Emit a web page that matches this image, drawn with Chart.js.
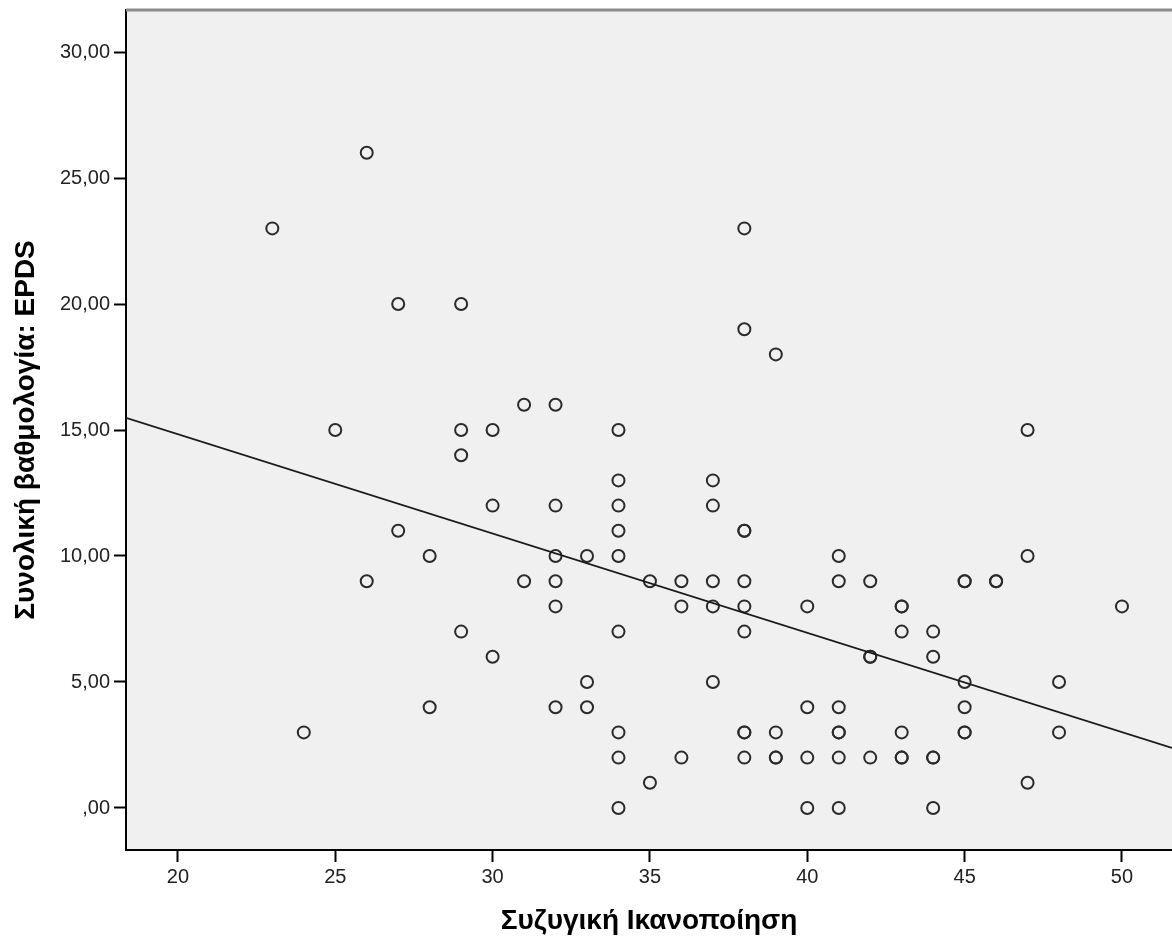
<!DOCTYPE html>
<html>
<head>
<meta charset="utf-8">
<script src="https://cdn.jsdelivr.net/npm/chart.js@4/dist/chart.umd.min.js"></script>
<style>
  html, body { margin: 0; padding: 0; background: #fff; overflow: hidden; }
  #wrap { width: 1172px; height: 944px; }
  canvas { display: block; }
</style>
</head>
<body>
<div id="wrap"><canvas id="scatter" width="1172" height="944"></canvas></div>
<script>
// ---- data ----
const maritalSatisfaction = [
  23, 24, 25, 26, 26, 27, 27, 28, 28,
  29, 29, 29, 29, 30, 30, 30, 31, 31,
  32, 32, 32, 32, 32, 32, 33, 33, 33,
  34, 34, 34, 34, 34, 34, 34, 34, 34,
  35, 35, 36, 36, 36, 37, 37, 37, 37, 37,
  38, 38, 38, 38, 38, 38, 38, 38, 38, 38,
  39, 39, 39, 39, 40, 40, 40, 40,
  41, 41, 41, 41, 41, 41, 41, 42, 42, 42, 42,
  43, 43, 43, 43, 43, 43, 44, 44, 44, 44, 44,
  45, 45, 45, 45, 45, 45, 46, 46, 47, 47, 47,
  48, 48, 50
];
const epdsTotal = [
  23, 3, 15, 26, 9, 20, 11, 10, 4,
  20, 15, 14, 7, 15, 12, 6, 16, 9,
  16, 12, 10, 9, 8, 4, 10, 5, 4,
  15, 13, 12, 11, 10, 7, 3, 2, 0,
  9, 1, 9, 8, 2, 13, 12, 9, 8, 5,
  23, 19, 11, 11, 9, 8, 7, 3, 3, 2,
  18, 3, 2, 2, 8, 4, 2, 0,
  10, 9, 4, 3, 3, 2, 0, 9, 6, 6, 2,
  8, 8, 7, 3, 2, 2, 7, 6, 2, 2, 0,
  9, 9, 5, 4, 3, 3, 9, 9, 15, 10, 1,
  5, 3, 8
];

// fit line (linear) as shown on the chart
const fitIntercept = 22.71;
const fitSlope = -0.394;

const xTicks = [20, 25, 30, 35, 40, 45, 50];
const yTicks = [0, 5, 10, 15, 20, 25, 30];
const yTickLabels = [',00', '5,00', '10,00', '15,00', '20,00', '25,00', '30,00'];

const xMin = 18.35, xMax = 51.59;
const yMin = -1.667, yMax = 31.667;

const points = maritalSatisfaction.map((x, i) => ({ x: x, y: epdsTotal[i] }));
const fitPoints = [xMin, xMax].map(x => ({ x: x, y: fitIntercept + fitSlope * x }));

// plot background + grey top frame line (SPSS look)
const frame = {
  id: 'frame',
  beforeDraw(chart) {
    const { ctx, chartArea: a } = chart;
    ctx.save();
    ctx.fillStyle = '#f0f0f0';
    ctx.fillRect(a.left, a.top, a.right - a.left, a.bottom - a.top);
    ctx.restore();
  },
  afterDraw(chart) {
    const { ctx, chartArea: a } = chart;
    ctx.save();
    ctx.strokeStyle = '#8c8c8c';
    ctx.lineWidth = 3;
    ctx.beginPath();
    ctx.moveTo(a.left, a.top);
    ctx.lineTo(a.right, a.top);
    ctx.stroke();
    ctx.restore();
  }
};

// keep the scales from asking for extra room for end labels
const noPad = s => { s.paddingLeft = 0; s.paddingRight = 0; s.paddingTop = 0; s.paddingBottom = 0; };

const tickFont = { family: '"Liberation Sans", Arial, sans-serif', size: 20 };
const titleFont = { family: '"Liberation Sans", Arial, sans-serif', size: 28, weight: 'bold' };

new Chart(document.getElementById('scatter'), {
  type: 'scatter',
  data: {
    datasets: [{
      label: 'EPDS',
      data: points,
      pointStyle: 'circle',
      pointRadius: 6,
      pointBorderWidth: 2,
      pointBorderColor: '#2a2a2a',
      pointBackgroundColor: 'rgba(0,0,0,0)',
      order: 2
    }, {
      type: 'line',
      label: 'fit',
      data: fitPoints,
      borderColor: '#1a1a1a',
      borderWidth: 1.8,
      pointRadius: 0,
      fill: false,
      order: 1
    }]
  },
  options: {
    responsive: false,
    animation: false,
    layout: { autoPadding: false, padding: { top: 10, left: 0, right: 0, bottom: 0 } },
    plugins: {
      legend: { display: false },
      tooltip: { enabled: false }
    },
    scales: {
      x: {
        type: 'linear',
        min: xMin,
        max: xMax,
        afterBuildTicks: s => { s.ticks = xTicks.map(v => ({ value: v })); },
        afterFit: s => { s.height = 94; noPad(s); },
        border: { display: true, color: '#000', width: 2 },
        grid: { drawOnChartArea: false, drawTicks: true, tickLength: 12, tickWidth: 2, tickColor: '#000' },
        ticks: { color: '#222', font: tickFont, padding: 3, maxRotation: 0 },
        title: { display: true, text: 'Συζυγική Ικανοποίηση', color: '#000', font: titleFont, padding: { top: 0, bottom: 6 } }
      },
      y: {
        type: 'linear',
        min: yMin,
        max: yMax,
        afterBuildTicks: s => { s.ticks = yTicks.map(v => ({ value: v })); },
        afterFit: s => { s.width = 126; noPad(s); },
        border: { display: true, color: '#000', width: 2 },
        grid: { drawOnChartArea: false, drawTicks: true, tickLength: 12, tickWidth: 2, tickColor: '#000' },
        ticks: {
          color: '#222',
          font: tickFont,
          padding: 4,
          callback: (v) => yTickLabels[yTicks.indexOf(v)]
        },
        title: { display: true, text: 'Συνολική βαθμολογία: EPDS', color: '#000', font: titleFont, padding: { top: 9, bottom: 0 } }
      }
    }
  },
  plugins: [frame]
});
</script>
</body>
</html>
